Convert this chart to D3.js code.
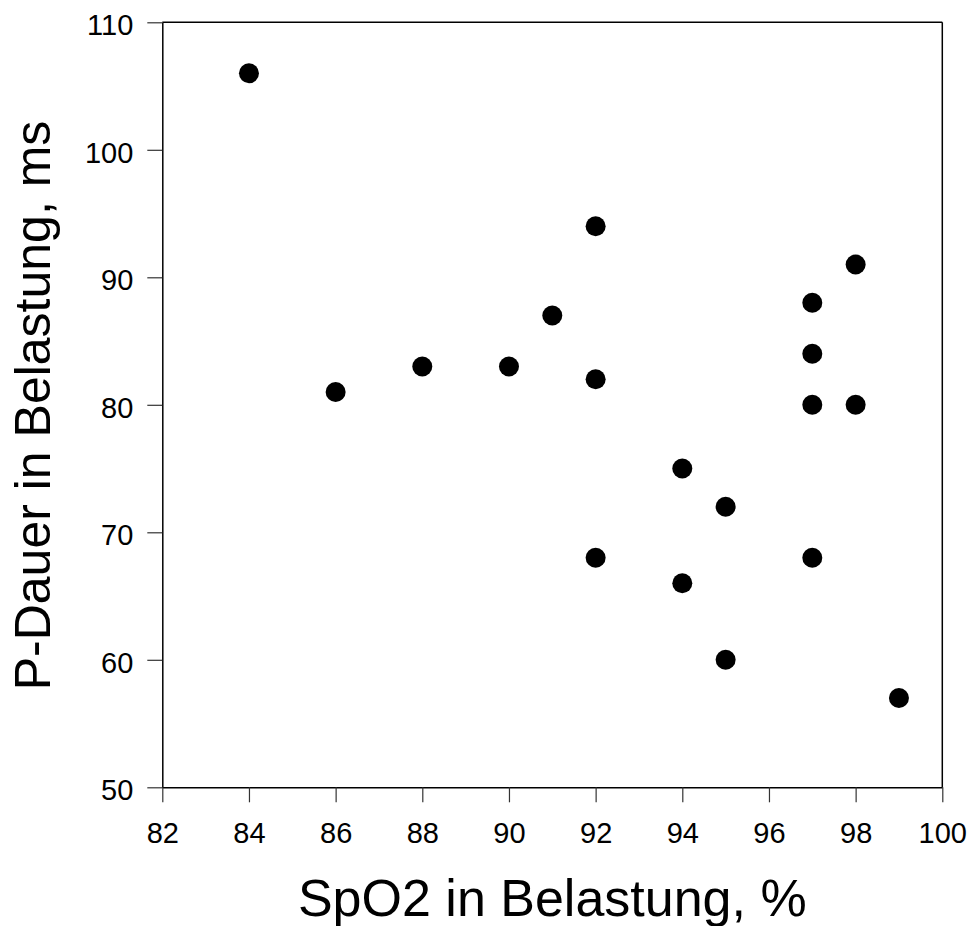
<!DOCTYPE html>
<html>
<head>
<meta charset="utf-8">
<script src="https://cdn.jsdelivr.net/npm/d3@7"></script>
<style>
  html, body { margin: 0; padding: 0; background: #fff; }
  svg { display: block; font-family: "Liberation Sans", Arial, sans-serif; }
</style>
</head>
<body>
<svg id="chart" width="971" height="926"></svg>
<script>
// Data
const spo2 = [84, 86, 88, 90, 91, 92, 92, 92, 94, 94, 95, 95, 97, 97, 97, 97, 98, 98, 99];
const pDauer = [106, 81, 83, 83, 87, 94, 82, 68, 75, 66, 72, 60, 88, 84, 80, 68, 91, 80, 57];
const xTicks = [82, 84, 86, 88, 90, 92, 94, 96, 98, 100];
const yTicks = [50, 60, 70, 80, 90, 100, 110];
const xTitle = "SpO2 in Belastung, %";
const yTitle = "P-Dauer in Belastung, ms";

(function () {
const svg = d3.select("#chart");
const pLeft = 162.3, pRight = 942.3, pTop = 22.3, pBottom = 787.3;

const x = d3.scaleLinear().domain([82, 100]).range([pLeft, pRight]);
const y = d3.scaleLinear().domain([50, 110]).range([pBottom, pTop]);

// frame (top and right lines)
svg.append("line").attr("x1", pLeft).attr("x2", pRight).attr("y1", pTop).attr("y2", pTop)
  .attr("stroke", "#000").attr("stroke-width", 1.5);
svg.append("line").attr("x1", pRight).attr("x2", pRight).attr("y1", pTop).attr("y2", pBottom)
  .attr("stroke", "#000").attr("stroke-width", 1.5);

const xAxis = svg.append("g").attr("transform", `translate(0,${pBottom})`)
  .call(d3.axisBottom(x).tickValues(xTicks).tickSize(15).tickPadding(20).tickSizeOuter(0));
const yAxis = svg.append("g").attr("transform", `translate(${pLeft},0)`)
  .call(d3.axisLeft(y).tickValues(yTicks).tickSize(15).tickPadding(14).tickSizeOuter(0));

[xAxis, yAxis].forEach(g => {
  g.select(".domain").attr("stroke", "#000").attr("stroke-width", 1.5);
  g.selectAll(".tick line").attr("stroke", "#333").attr("stroke-width", 1.2);
  g.selectAll(".tick text").attr("fill", "#000")
    .style("font-size", "29px").style("font-family", "'Liberation Sans', Arial, sans-serif");
});
xAxis.selectAll(".tick text").attr("dy", "0.71em");
yAxis.selectAll(".tick text").attr("dy", "0.43em");

// points
svg.append("g").selectAll("circle")
  .data(d3.range(spo2.length))
  .join("circle")
  .attr("cx", i => x(spo2[i]))
  .attr("cy", i => y(pDauer[i]))
  .attr("r", 10)
  .attr("fill", "#000");

// titles
svg.append("text")
  .attr("x", (pLeft + pRight) / 2)
  .attr("y", 916)
  .attr("text-anchor", "middle")
  .style("font-size", "52px")
  .text(xTitle);

svg.append("text")
  .attr("transform", `translate(50,405.5) rotate(-90)`)
  .attr("text-anchor", "middle")
  .style("font-size", "50px")
  .text(yTitle);
})();
</script>
</body>
</html>
